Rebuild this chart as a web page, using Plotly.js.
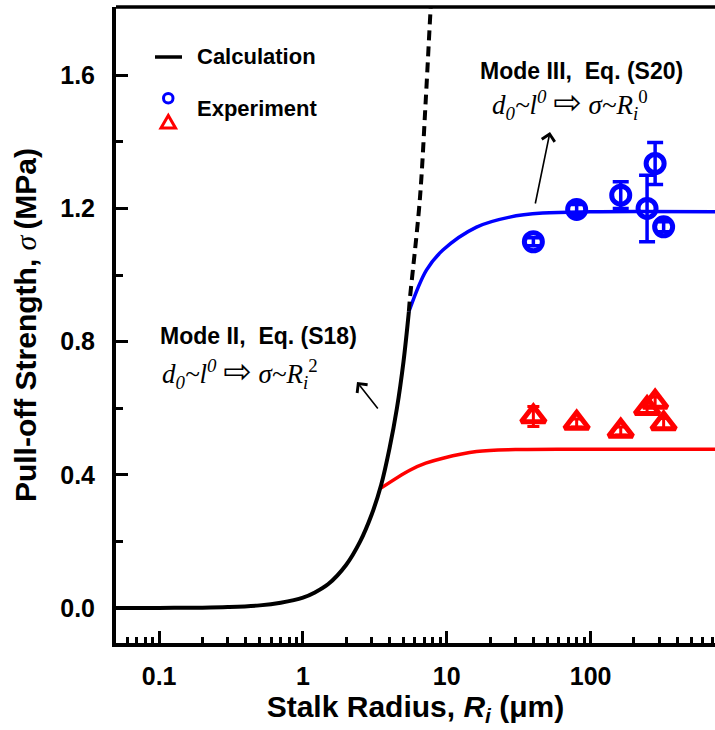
<!DOCTYPE html>
<html>
<head>
<meta charset="utf-8">
<script src="https://cdn.plot.ly/plotly-3.0.1.min.js"></script>
<style>html,body{margin:0;padding:0;background:#fff;}#chart{width:715px;height:730px;}</style>
</head>
<body>
<div id="chart"></div>
<script>
// ---- data ----
// Calculation, Mode II (black solid)
const calcR = [0.05, 0.1, 0.2, 0.3, 0.5, 0.7, 1.0, 1.2, 1.5, 2.0, 2.5, 3.0, 3.5, 4.0, 4.5, 5.0, 5.45];
const calcS = [0.0, 0.0003, 0.0012, 0.003, 0.008, 0.016, 0.031, 0.046, 0.072, 0.13, 0.2, 0.28, 0.37, 0.48, 0.6, 0.74, 0.89];
// Mode II continuation (black dashed)
const dashR = [5.45, 5.53, 6.49, 7.14, 7.71, 7.85];
const dashS = [0.89, 0.925, 1.225, 1.525, 1.796, 1.85];
// Mode III (blue curve)
const blueR = [5.45, 7.22, 9.4, 16.1, 27.4, 46.4, 100, 750];
const blueS = [0.89, 1.015, 1.075, 1.144, 1.174, 1.186, 1.19, 1.19];
// red curve
const redR = [3.48, 5.53, 7.14, 9.4, 16.1, 30, 100, 750];
const redS = [0.36, 0.414, 0.435, 0.45, 0.47, 0.476, 0.477, 0.477];
// Experiments
const expR = [40, 80, 162, 247, 281, 322];
const expBlue = [1.10, 1.197, 1.24, 1.20, 1.335, 1.145];
const expBlueErr = [0.012, 0.015, 0.04, 0.10, 0.063, 0.015];
const expRed = [0.575, 0.556, 0.532, 0.60, 0.619, 0.554];
const expRedErr = [0.03, 0.012, 0.012, 0.015, 0.015, 0.015];
// ticks
const xTickVals = [0.1, 1, 10, 100];
const xTickText = ['0.1', '1', '10', '100'];
const xMinorVals = [0.06,0.07,0.08,0.09,0.2,0.3,0.4,0.5,0.6,0.7,0.8,0.9,2,3,4,5,6,7,8,9,20,30,40,50,60,70,80,90,200,300,400,500,600,700];
const yTickVals = [0.0, 0.4, 0.8, 1.2, 1.6];
const yTickText = ['0.0', '0.4', '0.8', '1.2', '1.6'];
const yMinorVals = [0.2, 0.6, 1.0, 1.4];

const BLUE = 'rgb(0,0,255)', RED = 'rgb(255,0,0)';
const SANS = 'Liberation Sans, Arial, sans-serif';
const SERIF = 'Liberation Serif, Times New Roman, serif';
const ARR = '<span style="font-family:DejaVu Sans;font-size:34px">⇨</span>';

const traces = [
  {x: redR, y: redS, mode: 'lines', line: {color: RED, width: 3.5, shape: 'spline'}},
  {x: blueR, y: blueS, mode: 'lines', line: {color: BLUE, width: 3.5, shape: 'spline'}},
  {x: dashR, y: dashS, mode: 'lines', line: {color: 'black', width: 4, dash: '10px,6px', shape: 'spline'}},
  {x: calcR, y: calcS, mode: 'lines', line: {color: 'black', width: 4, shape: 'spline'}},
  {x: expR, y: expRed, mode: 'markers',
   marker: {symbol: 'triangle-up-open', size: 21, color: RED, line: {color: RED, width: 5}},
   error_y: {type: 'data', array: expRedErr, color: RED, thickness: 3, width: 6}},
  {x: expR, y: expBlue, mode: 'markers',
   marker: {symbol: 'circle-open', size: 18, color: BLUE, line: {color: BLUE, width: 5}},
   error_y: {type: 'data', array: expBlueErr, color: BLUE, thickness: 3.5, width: 8}}
];

// pixel -> paper helpers for decorations
const L = 116, T = 7, W = 599, H = 636;
const px = v => (v - L) / W;
const py = v => (T + H - v) / H;
const bold = a => a.map(s => '<b>' + s + '</b>');

const layout = {
  width: 715, height: 730,
  margin: {l: L, r: 0, t: T, b: 730 - T - H},
  paper_bgcolor: 'white', plot_bgcolor: 'white',
  showlegend: false,
  xaxis: {
    type: 'log', range: [-1.30, 2.865],
    showline: true, linewidth: 4, linecolor: 'black',
    showgrid: false, zeroline: false,
    ticks: 'inside', ticklen: 12, tickwidth: 3, tickcolor: 'black',
    tickmode: 'array', tickvals: xTickVals, ticktext: bold(xTickText),
    ticklabelstandoff: 8,
    minor: {tickmode: 'array', tickvals: xMinorVals, ticks: 'inside', ticklen: 6, tickwidth: 3, tickcolor: 'black', showgrid: false},
    tickfont: {family: SANS, size: 25, color: 'black'},
    title: {text: '<b>Stalk Radius, <i>R<sub>i</sub></i> (μm)</b>', font: {family: SANS, size: 30, color: 'black'}, standoff: 8}
  },
  yaxis: {
    range: [-0.105, 1.805],
    showline: true, linewidth: 4, linecolor: 'black',
    showgrid: false, zeroline: false,
    ticks: 'inside', ticklen: 12, tickwidth: 3, tickcolor: 'black',
    tickmode: 'array', tickvals: yTickVals, ticktext: bold(yTickText),
    ticklabelstandoff: 12,
    minor: {tickmode: 'array', tickvals: yMinorVals, ticks: 'inside', ticklen: 7, tickwidth: 3, tickcolor: 'black', showgrid: false},
    tickfont: {family: SANS, size: 25, color: 'black'},
    title: {text: '<b>Pull-off Strength, </b><span style="font-family:Liberation Serif"><i>σ</i></span><b>\u2009(MPa)</b>', font: {family: SANS, size: 30, color: 'black'}, standoff: 16}
  },
  shapes: [
    {type: 'line', xref: 'paper', yref: 'paper', x0: 0, x1: 1, y0: 1, y1: 1, line: {color: 'black', width: 3.5}},
    // legend symbols
    {type: 'line', xref: 'paper', yref: 'paper', x0: px(155), x1: px(182), y0: py(57), y1: py(57), line: {color: 'black', width: 3.5}},
    {type: 'circle', xref: 'paper', yref: 'paper', x0: px(163.5), x1: px(173), y0: py(93.5), y1: py(103), line: {color: BLUE, width: 3}},
    {type: 'path', xref: 'paper', yref: 'paper',
     path: `M ${px(161)} ${py(128)} L ${px(175.5)} ${py(128)} L ${px(168.3)} ${py(115.5)} Z`, line: {color: RED, width: 3}}
  ],
  annotations: [
    {xref: 'paper', yref: 'paper', x: px(195), y: py(56), xanchor: 'left', yanchor: 'middle', showarrow: false,
     text: '<b>Calculation</b>', font: {family: SANS, size: 22, color: 'black'}},
    {xref: 'paper', yref: 'paper', x: px(195), y: py(108), xanchor: 'left', yanchor: 'middle', showarrow: false,
     text: '<b>Experiment</b>', font: {family: SANS, size: 22, color: 'black'}},
    {xref: 'paper', yref: 'paper', x: px(158), y: py(336), xanchor: 'left', yanchor: 'middle', showarrow: false,
     text: '<b>Mode II,\u00a0 Eq. (S18)</b>', font: {family: SANS, size: 23, color: 'black'}},
    {xref: 'paper', yref: 'paper', x: px(160), y: py(372), xanchor: 'left', yanchor: 'middle', showarrow: false,
     text: '<i>d<sub>0</sub>~l<sup>0</sup></i> ' + ARR + ' <i>σ~R<sub>i</sub></i><sup>2</sup>', font: {family: SERIF, size: 27, color: 'black'}},
    {xref: 'paper', yref: 'paper', x: px(478), y: py(71), xanchor: 'left', yanchor: 'middle', showarrow: false,
     text: '<b>Mode III,\u00a0 Eq. (S20)</b>', font: {family: SANS, size: 23, color: 'black'}},
    {xref: 'paper', yref: 'paper', x: px(490), y: py(103), xanchor: 'left', yanchor: 'middle', showarrow: false,
     text: '<i>d<sub>0</sub>~l<sup>0</sup></i> ' + ARR + ' <i>σ~R<sub>i</sub></i><sup>0</sup>', font: {family: SERIF, size: 27, color: 'black'}},
    // arrows
    {xref: 'paper', yref: 'paper', x: px(357), y: py(382), ax: 22, ay: 28, text: '', showarrow: true,
     arrowhead: 4, arrowsize: 1.6, arrowwidth: 1.6, arrowcolor: 'black'},
    {xref: 'paper', yref: 'paper', x: px(550), y: py(132), ax: -15, ay: 73, text: '', showarrow: true,
     arrowhead: 4, arrowsize: 1.6, arrowwidth: 1.6, arrowcolor: 'black'}
  ]
};

Plotly.newPlot('chart', traces, layout, {staticPlot: true, displayModeBar: false});
</script>
</body>
</html>
